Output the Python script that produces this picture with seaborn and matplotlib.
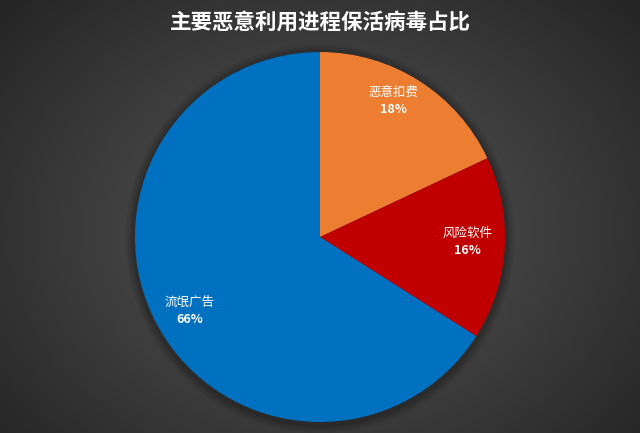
import numpy as np
import matplotlib
matplotlib.use("Agg")
import matplotlib.pyplot as plt
import seaborn as sns
from matplotlib.patches import Circle

categories = ["恶意扣费", "风险软件", "流氓广告"]
values = [18, 16, 66]
colors = ["#ED7D31", "#C00000", "#0070C0"]
title = "主要恶意利用进程保活病毒占比"

sns.set_style("white")
plt.rcParams['font.family'] = ['Noto Sans CJK SC', 'DejaVu Sans']

W, H = 640, 433
fig = plt.figure(figsize=(W / 100, H / 100), dpi=100)

# radial gradient background
bg = fig.add_axes([0, 0, 1, 1])
yy, xx = np.mgrid[0:H, 0:W]
r = np.sqrt(((xx - 320) / 420) ** 2 + ((yy - 230) / 330) ** 2)
r = np.clip(r, 0, 1)
c0 = np.array([0x58, 0x58, 0x58]) / 255
c1 = np.array([0x26, 0x26, 0x26]) / 255
img = c0[None, None, :] * (1 - r[..., None]) + c1[None, None, :] * r[..., None]
bg.imshow(img, aspect='auto', extent=[0, W, H, 0])
bg.set_axis_off()

# pie axes
cx, cy, R = 320, 237, 185
ax = fig.add_axes([(cx - R) / W, (H - cy - R) / H, 2 * R / W, 2 * R / H])
ax.set_axis_off()

# soft shadow
for i, a in enumerate([0.10, 0.08, 0.06, 0.04]):
    ax.add_patch(Circle((0.0, -0.01), 1.0 + 0.012 * (i + 1), color="black", alpha=a,
                        zorder=0, clip_on=False))

wedges, _ = ax.pie(values, colors=colors, startangle=90, counterclock=False,
                   radius=1.0, wedgeprops=dict(linewidth=0))
for w in wedges:
    w.set_zorder(2)
    w.set_clip_on(False)
ax.set_xlim(-1, 1)
ax.set_ylim(-1, 1)

label_pos = [(0.395, 0.735), (0.795, -0.027), (-0.703, -0.40)]
for (x, y), cat, v in zip(label_pos, categories, values):
    ax.text(x, y + 0.045, cat, color="white", ha="center", va="center", fontsize=9, zorder=3)
    ax.text(x, y - 0.045, f"{v}%", color="white", ha="center", va="center", fontsize=9,
            fontweight="bold", zorder=3)

fig.text(0.5, 1 - 22 / H, title, color="white", ha="center", va="center",
         fontsize=15.5, fontweight="bold")

fig.savefig("out.png", dpi=100)
